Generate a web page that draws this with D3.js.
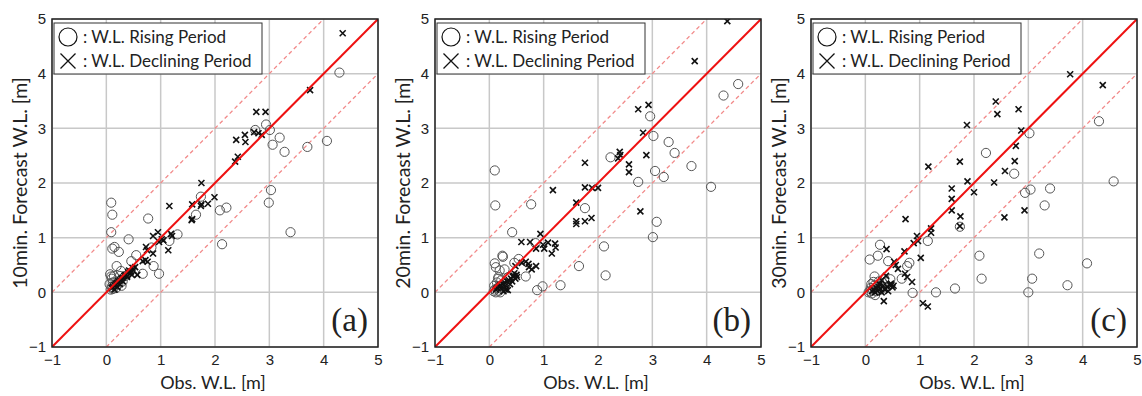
<!DOCTYPE html>
<html><head><meta charset="utf-8">
<script src="https://cdn.jsdelivr.net/npm/d3@7"></script>
<style>body{margin:0;background:#fff}svg{display:block}</style>
</head><body>
<svg id="c" width="1142" height="396"></svg>
<script>
const ticks = [-1, 0, 1, 2, 3, 4, 5];
const panelLabels = ["(a)", "(b)", "(c)"];
const yTitles = ["10min. Forecast W.L. [m]", "20min. Forecast W.L. [m]", "30min. Forecast W.L. [m]"];
const xTitle = "Obs. W.L. [m]";
const legendLabels = [": W.L. Rising Period", ": W.L. Declining Period"];

// Panel (a) 10 min
const riseA = [[4.29,4.02],[2.94,3.07],[2.74,2.97],[3.01,2.97],[3.19,2.83],[3.06,2.70],[3.28,2.57],[3.70,2.66],[4.06,2.77],[3.03,1.87],[2.99,1.64],[3.39,1.10],[1.74,1.75],[1.65,1.42],[2.09,1.50],[2.21,1.55],[2.13,0.88],[1.31,1.06],[1.16,0.94],[0.77,1.35],[0.41,0.97],[0.09,1.64],[0.11,1.42],[0.09,1.10],[0.11,0.80],[0.15,0.83],[0.23,0.74],[0.55,0.68],[0.87,0.48],[0.97,0.34],[0.67,0.34],[0.46,0.57],[0.19,0.48],[0.07,0.33],[0.09,0.29],[0.27,0.39],[0.83,0.82],
[0.08,0.05],[0.10,0.10],[0.12,0.06],[0.15,0.12],[0.18,0.08],[0.20,0.20],[0.10,0.25],[0.14,0.30],[0.22,0.15],[0.25,0.30],[0.30,0.20],[0.06,0.15],[0.12,0.18],[0.35,0.30],[0.28,0.12]];
const fallA = [[4.35,4.74],[3.75,3.70],[2.76,3.30],[2.93,3.30],[2.55,2.88],[2.56,2.75],[2.39,2.79],[2.72,2.93],[2.80,2.91],[2.86,2.88],[2.42,2.48],[2.37,2.39],[1.75,2.00],[1.99,1.74],[1.87,1.62],[1.74,1.58],[1.75,1.61],[1.58,1.61],[1.58,1.34],[1.57,1.32],[1.16,1.58],[1.19,1.07],[1.21,1.03],[1.14,0.77],[0.95,1.10],[0.86,1.03],[0.97,0.92],[1.05,0.95],[1.02,0.97],[0.86,0.71],[0.73,0.83],[0.75,0.77],[0.72,0.59],[0.76,0.56],[0.67,0.57],[0.53,0.46],[0.50,0.40],[0.57,0.32],[0.47,0.32],[0.38,0.28],
[0.10,0.08],[0.12,0.10],[0.15,0.13],[0.18,0.15],[0.20,0.17],[0.22,0.20],[0.25,0.22],[0.28,0.25],[0.30,0.27],[0.33,0.30],[0.35,0.32],[0.38,0.30],[0.40,0.37],[0.42,0.40],[0.45,0.38],[0.48,0.45],[0.30,0.20],[0.25,0.15],[0.20,0.10],[0.15,0.05]];

// Panel (b) 20 min
const riseB = [[4.58,3.81],[4.31,3.60],[2.96,3.22],[3.02,2.86],[3.30,2.75],[3.41,2.55],[3.72,2.31],[3.05,2.22],[3.21,2.11],[2.74,2.02],[2.23,2.47],[4.08,1.93],[1.76,1.54],[3.08,1.29],[3.01,1.01],[2.11,0.84],[1.65,0.48],[2.14,0.31],[1.31,0.13],[0.98,0.11],[0.88,0.04],[0.77,1.61],[0.10,2.23],[0.11,1.59],[0.42,1.10],[0.67,0.29],[0.54,0.61],[0.46,0.54],[0.24,0.67],[0.25,0.65],[0.10,0.53],[0.12,0.46],[0.19,0.40],[0.28,0.42],[0.17,0.28],[0.85,0.90],
[0.08,0.02],[0.10,0.05],[0.12,0.00],[0.15,0.08],[0.18,0.03],[0.20,0.12],[0.14,0.18],[0.22,0.22],[0.25,0.10],[0.30,0.15],[0.16,0.25],[0.09,0.12],[0.35,0.28],[0.20,0.00]];
const fallB = [[4.38,4.96],[3.78,4.23],[2.74,3.35],[2.93,3.43],[2.83,2.92],[2.89,2.51],[2.40,2.57],[2.41,2.51],[2.37,2.45],[2.57,2.34],[2.57,2.20],[2.78,1.48],[1.76,2.37],[1.76,1.92],[1.89,1.91],[2.00,1.91],[1.60,1.64],[1.60,1.30],[1.60,1.25],[1.76,1.30],[1.88,1.36],[1.17,1.87],[0.94,1.07],[0.99,0.87],[0.86,0.80],[1.01,0.80],[1.08,0.91],[1.21,0.89],[1.22,0.82],[1.15,0.71],[0.59,0.92],[0.75,0.92],[0.67,0.56],[0.72,0.52],[0.73,0.46],[0.86,0.48],[0.78,0.42],[0.60,0.54],[0.48,0.48],[0.46,0.35],[0.43,0.29],[0.51,0.28],[0.34,0.04],
[0.12,0.05],[0.15,0.08],[0.18,0.10],[0.20,0.13],[0.22,0.08],[0.25,0.15],[0.28,0.18],[0.30,0.12],[0.33,0.20],[0.36,0.22],[0.40,0.25],[0.42,0.20],[0.45,0.30],[0.50,0.32],[0.30,0.05],[0.26,0.02],[0.38,0.15],[0.48,0.25]];

// Panel (c) 30 min
const riseC = [[4.30,3.13],[3.02,2.91],[2.22,2.55],[2.74,2.17],[2.94,1.82],[3.04,1.88],[3.40,1.90],[3.30,1.59],[4.57,2.03],[1.74,1.20],[1.15,0.94],[3.20,0.71],[2.10,0.67],[4.08,0.53],[2.14,0.25],[3.07,0.25],[3.72,0.13],[3.00,0.00],[1.65,0.07],[1.30,0.00],[0.87,-0.01],[0.27,0.87],[0.08,0.60],[0.23,0.67],[0.42,0.57],[0.81,0.54],[0.77,0.48],[0.67,0.25],[0.46,0.24],[0.17,0.29],[0.15,0.19],[0.32,0.17],[0.18,-0.05],
[0.08,0.02],[0.10,0.08],[0.12,-0.02],[0.14,0.05],[0.16,0.12],[0.20,0.02],[0.22,0.10],[0.25,0.20],[0.28,0.05],[0.11,0.15],[0.30,0.12],[0.35,0.25],[0.06,0.00]];
const fallC = [[3.77,3.99],[4.37,3.79],[2.40,3.49],[2.43,3.26],[2.82,3.35],[1.87,3.06],[2.87,2.96],[2.77,2.68],[2.75,2.40],[2.57,2.22],[2.37,2.01],[1.88,2.03],[2.00,1.83],[1.74,2.39],[1.59,1.90],[1.59,1.71],[1.59,1.50],[1.75,1.39],[1.74,1.21],[2.93,1.50],[2.56,1.37],[1.16,2.30],[1.21,1.17],[1.21,1.09],[0.95,1.03],[0.97,0.94],[0.89,0.90],[1.02,0.63],[0.74,1.34],[0.72,0.75],[0.39,0.79],[0.53,0.56],[0.56,0.50],[0.60,0.43],[0.73,0.34],[0.77,0.28],[0.86,0.19],[1.06,-0.20],[1.15,-0.26],[0.34,-0.16],[0.48,0.13],[0.50,0.09],[0.47,0.16],
[0.12,0.02],[0.15,0.05],[0.18,0.00],[0.20,0.08],[0.22,0.03],[0.25,0.10],[0.28,0.06],[0.30,0.00],[0.33,0.12],[0.36,0.05],[0.40,0.10],[0.42,0.02],[0.45,0.14],[0.52,0.12],[0.38,0.30],[0.30,0.22],[0.26,0.15]];

const panels = [
  {rise: riseA, fall: fallA},
  {rise: riseB, fall: fallB},
  {rise: riseC, fall: fallC}
];
const lefts = [52, 435, 811];
const W = 326, pTop = 19, pBot = 347;
const svg = d3.select("#c");
const uiFont = "Lato, 'Open Sans', sans-serif";
const fmt = d3.format("d");

panels.forEach((p, i) => {
  const L = lefts[i];
  const x = d3.scaleLinear().domain([-1, 5]).range([L, L + W]);
  const y = d3.scaleLinear().domain([-1, 5]).range([pBot, pTop]);
  const g = svg.append("g");
  const clipId = "clip" + i;
  svg.append("clipPath").attr("id", clipId).append("rect")
    .attr("x", L).attr("y", pTop).attr("width", W).attr("height", pBot - pTop);

  // grid
  g.append("g").selectAll("line").data(ticks).join("line")
    .attr("x1", d => x(d)).attr("x2", d => x(d)).attr("y1", pTop).attr("y2", pBot)
    .attr("stroke", "#c8c8c8").attr("stroke-width", 1.5);
  g.append("g").selectAll("line").data(ticks).join("line")
    .attr("y1", d => y(d)).attr("y2", d => y(d)).attr("x1", L).attr("x2", L + W)
    .attr("stroke", "#c8c8c8").attr("stroke-width", 1.5);

  const lg = g.append("g").attr("clip-path", `url(#${clipId})`);
  [1, -1].forEach(off => {
    lg.append("line")
      .attr("x1", x(-1)).attr("y1", y(-1 + off)).attr("x2", x(5)).attr("y2", y(5 + off))
      .attr("stroke", "#f28a8a").attr("stroke-width", 1.3).attr("stroke-dasharray", "4,3");
  });

  lg.append("g").selectAll("circle").data(p.rise).join("circle")
    .attr("cx", d => x(d[0])).attr("cy", d => y(d[1])).attr("r", 4.6)
    .attr("fill", "none").attr("stroke", "#555").attr("stroke-width", 1);
  const s = 3;
  lg.append("g").selectAll("path").data(p.fall).join("path")
    .attr("d", d => { const cx = x(d[0]), cy = y(d[1]);
      return `M${cx-s},${cy-s}L${cx+s},${cy+s}M${cx-s},${cy+s}L${cx+s},${cy-s}`; })
    .attr("stroke", "#111").attr("stroke-width", 1.6).attr("fill", "none");

  lg.append("line")
    .attr("x1", x(-1)).attr("y1", y(-1)).attr("x2", x(5)).attr("y2", y(5))
    .attr("stroke", "#ee1111").attr("stroke-width", 2);

  g.append("rect").attr("x", L).attr("y", pTop).attr("width", W).attr("height", pBot - pTop)
    .attr("fill", "none").attr("stroke", "#222").attr("stroke-width", 1.5);

  const xa = g.append("g").attr("transform", `translate(0,${pBot})`)
    .call(d3.axisBottom(x).tickValues(ticks).tickFormat(fmt).tickSize(0).tickPadding(7));
  const ya = g.append("g").attr("transform", `translate(${L},0)`)
    .call(d3.axisLeft(y).tickValues(ticks).tickFormat(fmt).tickSize(0).tickPadding(6));
  [xa, ya].forEach(a => {
    a.select(".domain").remove();
    a.selectAll("text").attr("font-family", "'Liberation Sans', Arial, sans-serif")
      .attr("font-size", 15).attr("fill", "#222");
  });

  g.append("text").attr("x", L + W / 2 - 2).attr("y", 389).attr("text-anchor", "middle")
    .attr("font-family", uiFont).attr("font-size", 18).attr("fill", "#222").text(xTitle);
  g.append("text").attr("transform", `translate(${L - 25},${(pTop + pBot) / 2}) rotate(-90)`)
    .attr("text-anchor", "middle").attr("font-family", uiFont).attr("font-size", 19.5)
    .attr("fill", "#222").text(yTitles[i]);

  const lgx = L + 2, lgy = 23;
  g.append("rect").attr("x", lgx).attr("y", lgy).attr("width", 208).attr("height", 51)
    .attr("fill", "#fff").attr("stroke", "#333").attr("stroke-width", 1);
  g.append("circle").attr("cx", lgx + 14).attr("cy", lgy + 14).attr("r", 9)
    .attr("fill", "none").attr("stroke", "#111").attr("stroke-width", 1.2);
  const ls = 7.5, lcx = lgx + 14, lcy = lgy + 38;
  g.append("path").attr("d", `M${lcx-ls},${lcy-ls}L${lcx+ls},${lcy+ls}M${lcx-ls},${lcy+ls}L${lcx+ls},${lcy-ls}`)
    .attr("stroke", "#111").attr("stroke-width", 1.3);
  legendLabels.forEach((t, k) => {
    g.append("text").attr("x", lgx + 29).attr("y", lgy + 20 + k * 23.5)
      .attr("font-family", uiFont).attr("font-size", 17).attr("fill", "#222").text(t);
  });

  g.append("text").attr("x", L + W - 10).attr("y", 331).attr("text-anchor", "end")
    .attr("font-family", "'Liberation Serif', 'DejaVu Serif', serif").attr("font-size", 33)
    .attr("fill", "#222").text(panelLabels[i]);
});
</script>
</body></html>
